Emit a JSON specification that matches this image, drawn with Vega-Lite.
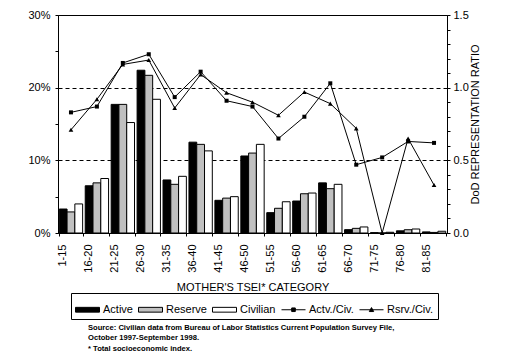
{
  "$schema": "https://vega.github.io/schema/vega-lite/v6.json",
  "width": 389,
  "height": 218,
  "autosize": {"type": "none"},
  "padding": {"left": 58, "top": 15, "right": 63, "bottom": 123},
  "background": "white",
  "config": {
    "view": {"stroke": "black", "strokeWidth": 1},
    "font": "Liberation Sans",
    "axis": {"labelFont": "Liberation Sans", "titleFont": "Liberation Sans", "labelColor": "black", "titleColor": "black", "domainColor": "black", "tickColor": "black", "labelFontSize": 11, "titleFontSize": 11, "titleFontWeight": "normal"}
  },
  "title": {
    "text": ["Source:  Civilian data from Bureau of Labor Statistics Current Population Survey File,", "October 1997-September 1998.", "* Total socioeconomic index."],
    "orient": "bottom",
    "anchor": "start",
    "frame": "group",
    "dx": 30,
    "font": "Liberation Sans",
    "fontSize": 7.6,
    "fontWeight": "bold",
    "lineHeight": 10.5,
    "color": "black",
    "offset": 4
  },
  "data": {"values": [
    {"cat": "1-15", "series": "Active", "value": 3.3}, {"cat": "1-15", "series": "Reserve", "value": 2.9}, {"cat": "1-15", "series": "Civilian", "value": 4.0}, {"cat": "1-15", "series": "Actv./Civ.", "value": 0.83}, {"cat": "1-15", "series": "Rsrv./Civ.", "value": 0.71},
    {"cat": "16-20", "series": "Active", "value": 6.5}, {"cat": "16-20", "series": "Reserve", "value": 6.9}, {"cat": "16-20", "series": "Civilian", "value": 7.5}, {"cat": "16-20", "series": "Actv./Civ.", "value": 0.87}, {"cat": "16-20", "series": "Rsrv./Civ.", "value": 0.92},
    {"cat": "21-25", "series": "Active", "value": 17.7}, {"cat": "21-25", "series": "Reserve", "value": 17.7}, {"cat": "21-25", "series": "Civilian", "value": 15.2}, {"cat": "21-25", "series": "Actv./Civ.", "value": 1.17}, {"cat": "21-25", "series": "Rsrv./Civ.", "value": 1.16},
    {"cat": "26-30", "series": "Active", "value": 22.4}, {"cat": "26-30", "series": "Reserve", "value": 21.7}, {"cat": "26-30", "series": "Civilian", "value": 18.4}, {"cat": "26-30", "series": "Actv./Civ.", "value": 1.23}, {"cat": "26-30", "series": "Rsrv./Civ.", "value": 1.19},
    {"cat": "31-35", "series": "Active", "value": 7.3}, {"cat": "31-35", "series": "Reserve", "value": 6.7}, {"cat": "31-35", "series": "Civilian", "value": 7.8}, {"cat": "31-35", "series": "Actv./Civ.", "value": 0.935}, {"cat": "31-35", "series": "Rsrv./Civ.", "value": 0.86},
    {"cat": "36-40", "series": "Active", "value": 12.5}, {"cat": "36-40", "series": "Reserve", "value": 12.2}, {"cat": "36-40", "series": "Civilian", "value": 11.3}, {"cat": "36-40", "series": "Actv./Civ.", "value": 1.11}, {"cat": "36-40", "series": "Rsrv./Civ.", "value": 1.09},
    {"cat": "41-45", "series": "Active", "value": 4.5}, {"cat": "41-45", "series": "Reserve", "value": 4.8}, {"cat": "41-45", "series": "Civilian", "value": 5.0}, {"cat": "41-45", "series": "Actv./Civ.", "value": 0.91}, {"cat": "41-45", "series": "Rsrv./Civ.", "value": 0.965},
    {"cat": "46-50", "series": "Active", "value": 10.6}, {"cat": "46-50", "series": "Reserve", "value": 11.0}, {"cat": "46-50", "series": "Civilian", "value": 12.2}, {"cat": "46-50", "series": "Actv./Civ.", "value": 0.87}, {"cat": "46-50", "series": "Rsrv./Civ.", "value": 0.9},
    {"cat": "51-55", "series": "Active", "value": 2.8}, {"cat": "51-55", "series": "Reserve", "value": 3.4}, {"cat": "51-55", "series": "Civilian", "value": 4.3}, {"cat": "51-55", "series": "Actv./Civ.", "value": 0.65}, {"cat": "51-55", "series": "Rsrv./Civ.", "value": 0.81},
    {"cat": "56-60", "series": "Active", "value": 4.4}, {"cat": "56-60", "series": "Reserve", "value": 5.4}, {"cat": "56-60", "series": "Civilian", "value": 5.5}, {"cat": "56-60", "series": "Actv./Civ.", "value": 0.8}, {"cat": "56-60", "series": "Rsrv./Civ.", "value": 0.97},
    {"cat": "61-65", "series": "Active", "value": 6.9}, {"cat": "61-65", "series": "Reserve", "value": 6.1}, {"cat": "61-65", "series": "Civilian", "value": 6.7}, {"cat": "61-65", "series": "Actv./Civ.", "value": 1.03}, {"cat": "61-65", "series": "Rsrv./Civ.", "value": 0.89},
    {"cat": "66-70", "series": "Active", "value": 0.46}, {"cat": "66-70", "series": "Reserve", "value": 0.64}, {"cat": "66-70", "series": "Civilian", "value": 0.83}, {"cat": "66-70", "series": "Actv./Civ.", "value": 0.47}, {"cat": "66-70", "series": "Rsrv./Civ.", "value": 0.72},
    {"cat": "71-75", "series": "Active", "value": 0.05}, {"cat": "71-75", "series": "Reserve", "value": 0.0}, {"cat": "71-75", "series": "Civilian", "value": 0.1}, {"cat": "71-75", "series": "Actv./Civ.", "value": 0.52}, {"cat": "71-75", "series": "Rsrv./Civ.", "value": 0.0},
    {"cat": "76-80", "series": "Active", "value": 0.3}, {"cat": "76-80", "series": "Reserve", "value": 0.45}, {"cat": "76-80", "series": "Civilian", "value": 0.55}, {"cat": "76-80", "series": "Actv./Civ.", "value": 0.63}, {"cat": "76-80", "series": "Rsrv./Civ.", "value": 0.65},
    {"cat": "81-85", "series": "Active", "value": 0.15}, {"cat": "81-85", "series": "Reserve", "value": 0.08}, {"cat": "81-85", "series": "Civilian", "value": 0.24}, {"cat": "81-85", "series": "Actv./Civ.", "value": 0.62}, {"cat": "81-85", "series": "Rsrv./Civ.", "value": 0.33}
  ]},
  "encoding": {
    "x": {
      "field": "cat", "type": "nominal", "sort": null,
      "scale": {"paddingInner": 0.1, "paddingOuter": 0.05},
      "axis": {"title": "MOTHER'S TSEI* CATEGORY", "labelAngle": -90, "labelAlign": "right", "labelBaseline": "middle", "labelOffset": -8, "labelPadding": 8, "tickSize": 3, "tickBand": "extent", "titlePadding": 9}
    }
  },
  "layer": [
    {
      "transform": [{"filter": {"field": "series", "oneOf": ["Active", "Reserve", "Civilian"]}}],
      "mark": {"type": "bar", "stroke": "black", "strokeWidth": 1},
      "encoding": {
        "xOffset": {"field": "series", "type": "nominal", "scale": {"domain": ["Active", "Reserve", "Civilian"], "paddingInner": 0, "paddingOuter": 0}},
        "y": {"field": "value", "type": "quantitative", "scale": {"domain": [0, 30]},
          "axis": {"title": null, "values": [0, 5, 10, 15, 20, 25, 30], "labelExpr": "datum.value % 10 == 0 ? datum.value + '%' : ''", "tickSize": 3, "labelPadding": 5, "grid": true, "gridColor": "black", "gridDash": [4, 3], "gridOpacity": {"condition": {"test": "datum.value == 10 || datum.value == 20", "value": 1}, "value": 0}}},
        "fill": {"field": "series", "type": "nominal",
          "scale": {"domain": ["Active", "Reserve", "Civilian", "Actv./Civ.", "Rsrv./Civ."], "range": ["black", "#c0c0c0", "white", "black", "black"]}}
      }
    },
    {
      "transform": [{"filter": {"field": "series", "oneOf": ["Actv./Civ.", "Rsrv./Civ."]}}],
      "encoding": {
        "y": {"field": "value", "type": "quantitative", "scale": {"domain": [0, 1.5]},
          "axis": {"orient": "right", "title": "DoD REPRESENTATION RATIO", "titleAngle": -90, "titlePadding": 12, "values": [0, 0.1, 0.2, 0.3, 0.4, 0.5, 0.6, 0.7, 0.8, 0.9, 1.0, 1.1, 1.2, 1.3, 1.4, 1.5], "labelExpr": "round(datum.value*10) % 5 == 0 ? format(datum.value, '.1f') : ''", "tickSize": 3, "labelPadding": 3, "grid": false}}
      },
      "layer": [
        {"mark": {"type": "line", "color": "black", "strokeWidth": 1}, "encoding": {"detail": {"field": "series"}}},
        {"transform": [{"filter": "datum.series == 'Actv./Civ.'"}], "mark": {"type": "point", "shape": "square", "filled": true, "color": "black", "size": 16, "opacity": 1}, "encoding": {}},
        {"transform": [{"filter": "datum.series == 'Rsrv./Civ.'"}], "mark": {"type": "point", "shape": "triangle-up", "filled": true, "color": "black", "size": 22, "opacity": 1}, "encoding": {}},
        {
          "mark": {"type": "point", "filled": true, "opacity": 0},
          "encoding": {
            "fill": {"field": "series", "type": "nominal",
              "scale": {"domain": ["Active", "Reserve", "Civilian", "Actv./Civ.", "Rsrv./Civ."], "range": ["black", "#c0c0c0", "white", "black", "black"]},
              "legend": {"title": null, "orient": "none", "legendX": 13, "legendY": 278, "direction": "horizontal", "columns": 5, "strokeColor": "black", "padding": 4, "labelFont": "Liberation Sans", "labelFontSize": 11, "labelColor": "black", "labelOffset": 3, "columnPadding": 3, "symbolSize": 576,
                "encode": {"symbols": {"update": {"stroke": {"value": "black"}, "strokeWidth": {"value": 1}, "opacity": {"value": 1}}}}}},
            "shape": {"field": "series", "type": "nominal",
              "scale": {"domain": ["Active", "Reserve", "Civilian", "Actv./Civ.", "Rsrv./Civ."], "range": ["M-1,-0.2H1V0.2H-1Z", "M-1,-0.2H1V0.2H-1Z", "M-1,-0.2H1V0.2H-1Z", "M-1,0H1M-0.15,-0.15H0.15V0.15H-0.15Z", "M-1,0H1M-0.18,0.15L0,-0.18L0.18,0.15Z"]},
              "legend": {"title": null, "orient": "none", "legendX": 13, "legendY": 278, "direction": "horizontal", "columns": 5, "strokeColor": "black", "padding": 4, "labelFont": "Liberation Sans", "labelFontSize": 11, "labelColor": "black", "labelOffset": 3, "columnPadding": 3, "symbolSize": 576,
                "encode": {"symbols": {"update": {"stroke": {"value": "black"}, "strokeWidth": {"value": 1}, "opacity": {"value": 1}}}}}}
          }
        }
      ]
    }
  ],
  "resolve": {"scale": {"y": "independent"}}
}
